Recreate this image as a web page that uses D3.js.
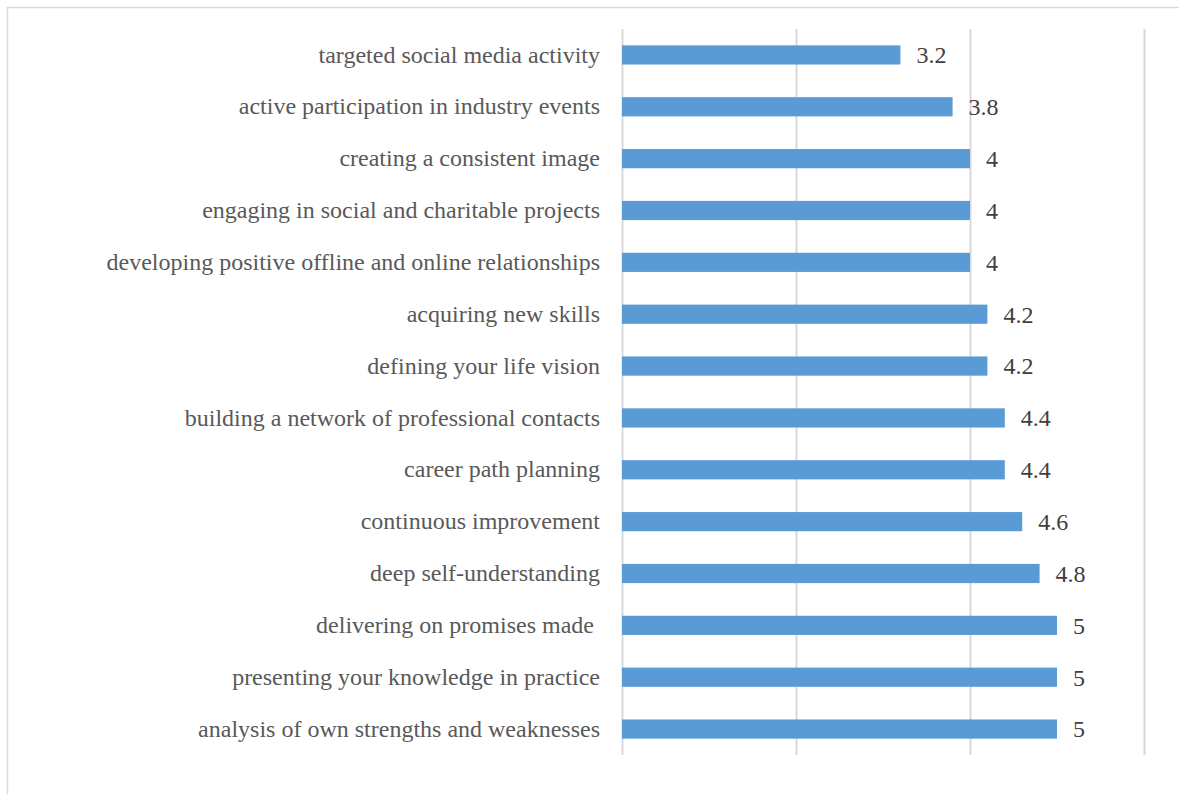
<!DOCTYPE html>
<html>
<head>
<meta charset="utf-8">
<script src="https://cdn.jsdelivr.net/npm/d3@7"></script>
<style>
  html, body { margin: 0; padding: 0; background: #fff; }
  svg { display: block; }
  svg text { white-space: pre; }
</style>
</head>
<body>
<svg id="chart" width="1179" height="794"></svg>
<script>
// Branding activities and their mean ratings (top to bottom)
const categories = [
  "targeted social media activity",
  "active participation in industry events",
  "creating a consistent image",
  "engaging in social and charitable projects",
  "developing positive offline and online relationships",
  "acquiring new skills",
  "defining your life vision",
  "building a network of professional contacts",
  "career path planning",
  "continuous improvement",
  "deep self-understanding",
  "delivering on promises made ",
  "presenting your knowledge in practice",
  "analysis of own strengths and weaknesses"
];
const values = [3.2, 3.8, 4, 4, 4, 4.2, 4.2, 4.4, 4.4, 4.6, 4.8, 5, 5, 5];
const xTicks = [0, 2, 4, 6];

const svg = d3.select("#chart");
const W = 1179, H = 794;
const serif = "'Liberation Serif', 'Times New Roman', serif";

// Chart frame
svg.append("rect")
  .attr("x", 7.5).attr("y", 7.5)
  .attr("width", W).attr("height", H)
  .attr("fill", "none")
  .attr("stroke", "#d9d9d9")
  .attr("stroke-width", 1.5);

const plot = { left: 622, right: 1144, top: 29, bottom: 755 };

const x = d3.scaleLinear().domain([0, 6]).range([plot.left, plot.right]);
const y = d3.scaleBand()
  .domain(categories)
  .range([plot.top, plot.bottom])
  .paddingInner(0.63)
  .paddingOuter(0.315);

// Vertical gridlines
const grid = d3.axisBottom(x)
  .tickValues(xTicks)
  .tickSize(-(plot.bottom - plot.top))
  .tickFormat("");
svg.append("g")
  .attr("transform", `translate(0,${plot.bottom})`)
  .call(grid)
  .call(g => g.select(".domain").remove())
  .call(g => g.selectAll(".tick line")
    .attr("stroke", "#d9d9d9")
    .attr("stroke-width", 2));

// Bars
svg.append("g")
  .selectAll("rect")
  .data(values)
  .join("rect")
  .attr("x", x(0))
  .attr("y", (d, i) => y(categories[i]))
  .attr("width", d => x(d) - x(0))
  .attr("height", y.bandwidth())
  .attr("fill", "#5b9bd5");

// Category labels
const yAxis = d3.axisLeft(y).tickSize(0).tickPadding(22);
svg.append("g")
  .attr("transform", `translate(${plot.left},0)`)
  .call(yAxis)
  .attr("font-family", serif)
  .call(g => g.select(".domain").remove())
  .call(g => g.selectAll(".tick text")
    .attr("font-family", serif)
    .attr("font-size", 24)
    .attr("fill", "#595959"));

// Value labels
svg.append("g")
  .selectAll("text")
  .data(values)
  .join("text")
  .attr("x", d => x(d) + 16)
  .attr("y", (d, i) => y(categories[i]) + y.bandwidth() / 2)
  .attr("dy", "0.35em")
  .attr("font-family", serif)
  .attr("font-size", 24)
  .attr("fill", "#404040")
  .text(d => d3.format("")(d));
</script>
</body>
</html>
